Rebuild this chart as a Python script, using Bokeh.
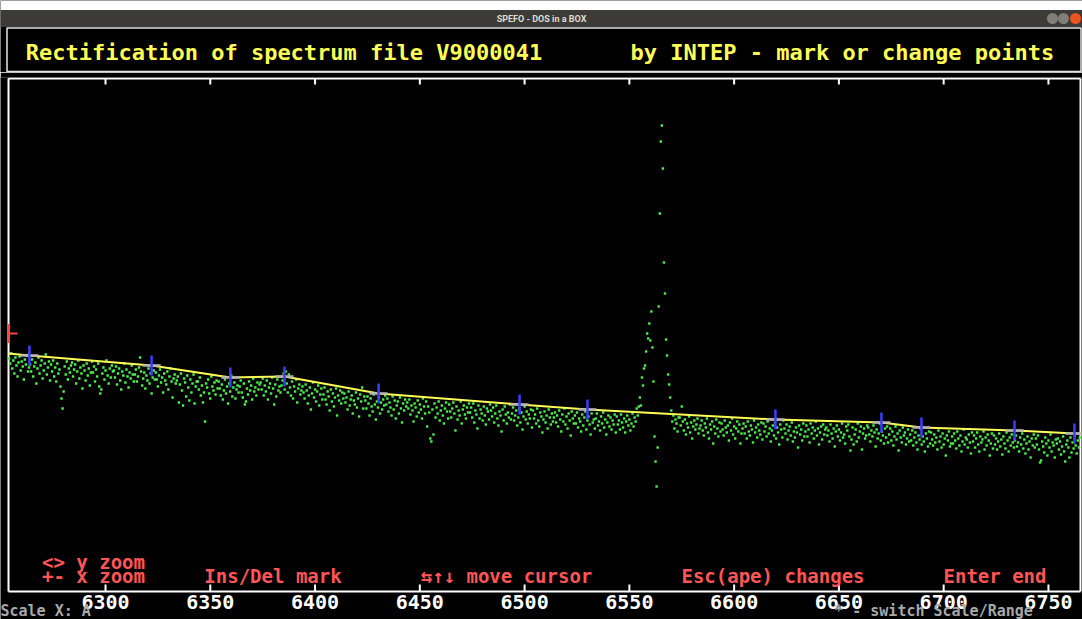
import numpy as np
from bokeh.plotting import figure
from bokeh.models import Range1d
from bokeh.layouts import column
from bokeh.embed import file_html
from bokeh.resources import INLINE
from bokeh.core.properties import value

# ---------------- data ----------------
wave_start = 6254.0   # Angstrom, first sample
wave_step = 0.5       # Angstrom per sample
flux = [
    233,228,238,223,231,218,234,226,215,229,235,221,230,225,212,232,227,236,220,224,
    227,220,232,215,225,229,208,223,234,218,226,231,213,221,228,237,217,224,230,211,
    227,220,231,215,224,210,228,218,222,205,193,183,200,225,217,230,212,223,219,226,
    229,215,222,227,208,220,231,213,224,218,203,226,221,211,228,216,223,206,219,230,
    219,225,210,222,215,228,205,198,202,218,224,212,221,231,216,208,223,214,226,220,
    221,214,225,207,218,223,211,202,220,216,228,209,222,215,204,219,213,226,217,210,
    217,222,210,215,224,234,220,206,213,219,203,216,211,223,208,218,198,214,221,212,
    219,212,205,216,222,209,214,199,218,211,207,220,202,215,223,210,194,213,217,208,
    211,215,189,207,218,201,186,213,209,195,216,204,191,212,199,208,217,188,205,210,
    210,202,214,196,206,189,199,170,208,204,212,198,193,215,205,201,209,197,211,203,
    210,203,196,207,192,201,212,198,205,188,208,200,216,195,204,209,193,202,206,199,
    205,211,199,194,208,187,190,203,197,210,201,206,192,213,200,204,196,209,202,207,
    209,202,213,196,206,200,211,192,204,208,198,214,203,187,207,195,212,201,205,199,
    206,211,218,202,220,208,199,217,204,196,210,193,205,200,212,189,203,207,197,201,
    205,199,193,207,201,188,196,204,182,198,209,194,202,190,200,206,186,197,203,192,
    197,204,192,187,200,195,181,202,190,198,185,194,203,176,196,191,201,188,199,193,
    198,189,194,182,200,186,192,196,178,191,187,199,184,193,175,197,190,204,183,195,
    191,183,195,188,176,193,185,180,197,187,172,190,184,194,178,189,182,192,186,196,
    187,193,180,189,184,176,195,182,191,173,186,190,178,194,183,169,188,181,192,185,
    189,183,192,177,186,181,170,188,184,175,191,179,187,182,173,193,185,178,190,165,
    185,179,153,150,182,157,188,174,184,178,190,171,181,186,176,168,183,189,180,173,
    187,180,174,183,189,178,161,185,172,181,176,190,168,182,186,177,173,184,179,188,
    179,184,174,188,169,181,177,163,186,173,182,178,171,185,176,167,183,180,172,187,
    181,175,184,169,178,186,173,166,180,176,160,182,171,185,177,168,179,174,187,172,
    178,184,171,176,181,166,174,183,169,179,162,175,185,172,180,168,177,173,182,164,
    181,173,177,168,183,171,165,179,175,159,172,180,169,176,163,182,174,167,178,170,
    174,179,169,176,165,181,172,160,177,170,183,167,175,163,178,171,156,180,173,168,
    176,168,179,164,173,170,160,177,166,174,180,162,171,175,167,157,178,169,172,163,
    173,178,166,170,161,175,168,179,164,172,157,169,176,165,174,162,171,167,177,159,
    175,167,171,162,177,169,164,173,159,170,176,166,172,161,168,178,165,174,170,183,
    176,185,194,186,214,206,223,226,240,258,253,268,251,280,244,210,155,130,105,144,
    285,378,450,466,423,329,298,252,236,217,207,194,181,170,176,163,172,168,160,174,
    174,166,185,170,161,172,157,168,164,175,159,169,153,165,171,162,167,173,158,163,
    166,171,161,156,168,164,173,159,153,167,162,170,148,165,158,172,163,155,169,160,
    168,162,156,171,164,159,166,151,169,161,173,157,165,153,163,170,160,167,148,158,
    163,168,158,165,153,170,160,156,166,162,149,171,159,164,154,167,161,157,169,152,
    168,160,165,155,170,158,163,150,161,166,156,169,153,164,159,147,167,162,154,171,
    163,158,167,152,161,165,156,169,150,160,154,164,159,144,166,157,162,151,168,155,
    160,166,155,162,149,168,158,164,153,161,170,156,163,147,159,165,152,167,157,162,
    164,156,161,150,167,158,153,163,145,160,166,155,162,151,159,168,154,157,148,165,
    161,167,155,141,152,164,147,157,162,150,168,154,160,165,142,158,163,153,156,166,
    164,157,150,161,155,166,159,145,162,153,158,168,151,160,156,148,163,154,165,149,
    157,163,151,160,146,155,165,152,158,141,161,154,149,164,156,159,147,153,162,150,
    157,151,161,146,154,159,149,142,156,152,163,147,155,150,140,158,153,145,160,148,
    159,152,146,157,149,154,142,161,150,155,144,158,147,153,136,156,151,160,145,148,
    155,148,158,151,143,160,153,146,156,140,150,162,147,154,152,144,157,149,138,159,
    150,156,144,153,159,147,140,155,149,152,160,142,154,146,157,151,136,148,158,143,
    156,147,153,142,150,158,145,152,137,155,148,143,159,151,140,154,146,157,149,144,
    151,156,145,149,140,154,147,158,143,152,138,148,155,142,150,134,153,146,157,144,
    153,147,156,142,129,131,150,145,139,154,148,136,151,144,157,140,149,146,134,152,
    148,153,142,150,137,145,155,140,130,147,151,144,134,154,139,149,143,156,146,138,
    151,144,154,
]
wave = [wave_start + i * wave_step for i in range(len(flux))]

# marked continuum points (INTEP knots)
mark_wave = [6263.7, 6322.0, 6359.6, 6385.4, 6430.3, 6497.6, 6530.0, 6619.7, 6670.3, 6689.4, 6733.8, 6762.4]
mark_flux = [236, 226, 214, 215, 198, 187, 182, 172, 169, 164, 161, 158]

# continuum curve (knots plus the two window ends)
cont_wave = [6253.7] + mark_wave + [6765.3]
cont_flux = [238] + mark_flux + [158]

cursor_wave = [6253.7]
cursor_flux = [258]

tick_values = [6300, 6350, 6400, 6450, 6500, 6550, 6600, 6650, 6700, 6750]
tick_labels = [str(t) for t in tick_values]

help_texts = ["<> y zoom", "+- x zoom", "Ins/Del mark", "\u21c6\u2191\u2193 move cursor",
              "Esc(ape) changes", "Enter end"]
status_texts = ["Scale X: A", "* - switch Scale/Range"]
title_texts = ["Rectification of spectrum file V9000041", "by INTEP  - mark or change points"]

# spectrum window (wavelength and intensity limits of the plot box)
WIN_X0, WIN_X1 = 6253.7, 6765.3
WIN_Y0, WIN_Y1 = 0, 513

W = 1082
BOX_L, BOX_R, BOX_B = 8, 1080, 591          # plot box in window pixels
PXW = (WIN_X1 - WIN_X0) / (BOX_R - BOX_L)   # Angstrom per pixel
VIEW_X0 = WIN_X0 - BOX_L * PXW
VIEW_X1 = WIN_X1 + (W - BOX_R) * PXW
VIEW_Y0 = WIN_Y0 - (619 - BOX_B)            # screen bottom
VIEW_Y1 = WIN_Y1 + 1

DOS = "DejaVu Sans Mono"
YEL = "#ffff55"
RED = "#ff5555"
WHITE = "#ffffff"


def px_x(px):
    return VIEW_X0 + px * PXW


def px_y(py):
    return BOX_B - py


# ---------------- window header ----------------
hdr = figure(width=W, height=72, x_range=Range1d(0, W), y_range=Range1d(72, 0),
             toolbar_location=None, output_backend="svg", min_border=0,
             x_axis_location=None, y_axis_location=None,
             background_fill_color="black", border_fill_color="black",
             outline_line_color=None)
hdr.grid.visible = False
hdr.quad(left=[0], right=[W], top=[0], bottom=[9.5], fill_color="white", line_color=None)
hdr.quad(left=[0], right=[W], top=[9.5], bottom=[26.5], fill_color="#3c3b37", line_color=None)
hdr.text(x=[541], y=[18], text=["SPEFO - DOS in a BOX"], text_align="center",
         text_baseline="middle", text_color="#dfdbd2", text_font=value("Roboto"),
         text_font_size="9px", text_font_style="bold")
hdr.scatter(x=[1052, 1063, 1075], y=[18, 18, 18], size=11,
            fill_color=["#807f7a", "#807f7a", "#e9541f"], line_color=None)
hdr.quad(left=[6.5], right=[1080.5], top=[27.5], bottom=[71], fill_color="black",
         line_color="#e6e6e6", line_width=1.5)
hdr.text(x=[283.5, 848.5], y=[51.5, 51.5], text=title_texts,
         text_align="center", text_baseline="middle", text_color=YEL,
         text_font=value(DOS), text_font_size="22px", text_font_style="bold")

# ---------------- spectrum screen ----------------
p = figure(width=W, height=547, x_range=Range1d(VIEW_X0, VIEW_X1),
           y_range=Range1d(VIEW_Y0, VIEW_Y1),
           toolbar_location=None, output_backend="svg",
           min_border_left=0, min_border_right=0, min_border_top=5, min_border_bottom=0,
           background_fill_color="black", border_fill_color="black",
           outline_line_color=None, x_axis_location=None, y_axis_location=None)
p.grid.visible = False

# plot box
p.segment(x0=[WIN_X0, WIN_X1], y0=[WIN_Y0, WIN_Y0], x1=[WIN_X0, WIN_X1], y1=[WIN_Y1, WIN_Y1],
          line_color=WHITE, line_width=2)
p.segment(x0=[WIN_X0, WIN_X0], y0=[WIN_Y0, WIN_Y1], x1=[WIN_X1, WIN_X1], y1=[WIN_Y0, WIN_Y1],
          line_color=WHITE, line_width=2)
# ticks on bottom and top edges
n = len(tick_values)
p.segment(x0=tick_values, y0=[WIN_Y0] * n, x1=tick_values, y1=[WIN_Y0 + 7] * n,
          line_color=WHITE, line_width=2)
p.segment(x0=tick_values, y0=[WIN_Y1] * n, x1=tick_values, y1=[WIN_Y1 - 6] * n,
          line_color=WHITE, line_width=2)
p.text(x=tick_values, y=[px_y(601)] * n, text=tick_labels,
       text_align="center", text_baseline="middle", text_color=WHITE,
       text_font=value(DOS), text_font_size="20px", text_font_style="bold")

# spectrum points
p.scatter(wave, flux, marker="square", size=2.4, fill_color="#4cf04c", line_color=None)
# continuum
p.line(cont_wave, cont_flux, line_color=YEL, line_width=2)
# marked points: grey horizontal + blue vertical bars
p.segment(x0=[w - 9 * PXW for w in mark_wave], y0=mark_flux,
          x1=[w + 9 * PXW for w in mark_wave], y1=mark_flux,
          line_color="#b4b4b4", line_width=2.5)
p.scatter(mark_wave, mark_flux, marker="dash", angle=np.pi / 2, size=20,
          line_color="#3c3cff", line_width=2.5)
# cursor (its left half is hidden behind the box edge)
p.scatter(cursor_wave, cursor_flux, marker="dash", angle=np.pi / 2, size=19,
          line_color="#ff4444", line_width=2)
p.segment(x0=cursor_wave, y0=cursor_flux, x1=[c + 9 * PXW for c in cursor_wave], y1=cursor_flux,
          line_color="#ff4444", line_width=2)

# key help (red)
help_cx = [93, 93, 272.5, 506, 772.5, 994.5]
help_mid = [561.5, 575.5, 575.5, 575.5, 575.5, 575.5]
p.text(x=[px_x(v) for v in help_cx], y=[px_y(v) for v in help_mid], text=help_texts,
       text_align="center", text_baseline="middle", text_color=RED,
       text_font=value(DOS), text_font_size="19px", text_font_style="bold")

# status line (grey)
p.text(x=[px_x(0), px_x(933)], y=[px_y(610.5)] * 2, text=status_texts,
       text_align=["left", "center"], text_baseline="middle", text_color="#a8a8a8",
       text_font=value(DOS), text_font_size="15px", text_font_style="bold")

layout = column(hdr, p, spacing=0)
open("out.html", "w").write(file_html(layout, INLINE))
